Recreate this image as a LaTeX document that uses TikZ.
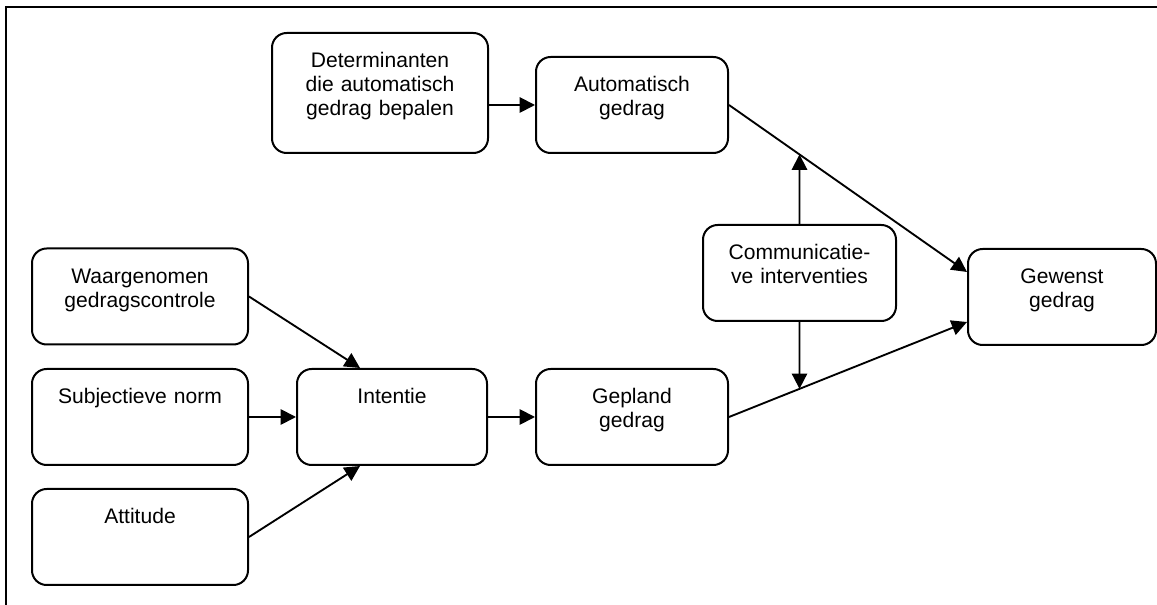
\documentclass[tikz,border=0pt]{standalone}
\usepackage{fontspec}
\setmainfont{Liberation Sans}
\usetikzlibrary{arrows.meta,intersections}
\tikzset{
  blok/.style={draw, line width=1.5pt, rounded corners=11pt, align=center, inner sep=0pt,
    text width=144pt, text height=25.9pt, text depth=46.1pt,
    font=\fontsize{15.8}{18}\selectfont},
  breed/.style={text width=162pt},
  hoog/.style={text depth=64.1pt},
  pijl/.style={draw=black, line width=1.4pt, -{Triangle[length=11.5pt,width=11.5pt]}}
}
\begin{document}
\begin{tikzpicture}[x=0.75pt,y=-0.75pt]
\useasboundingbox (0,0) rectangle (1157,605);
\draw[line width=1.6pt] (6,605) -- (6,7) -- (1157,7);

\begin{scope}[every node/.style={blok}]
    \node[breed,hoog] (det) at (380,93) {Determinanten\\die automatisch\\gedrag bepalen};
    \node (auto) at (632,105) {Automatisch\\gedrag};
    \node[breed] (waarg) at (140,296.5) {Waargenomen\\gedragscontrole};
    \node[breed] (subj) at (140,417) {Subjectieve norm};
    \node[breed] (att) at (140,537) {Attitude};
    \node[text width=142.5pt] (int) at (392,417) {Intentie};
    \node (gep) at (632,417) {Gepland\\gedrag};
    \node[text width=144.75pt] (comm) at (799.5,273) {Communicatie-\\ve interventies};
    \node[text width=141pt] (gw) at (1062,297) {Gewenst\\gedrag};
\end{scope}

\coordinate (gwA) at ([yshift=18.75pt]gw.west);
\coordinate (gwB) at ([yshift=-18.75pt]gw.west);
\path[name path=boven] (auto.east) -- (gwA);
\path[name path=onder] (gep.east) -- (gwB);
\path[name path=omhoog] (comm.north) -- ++(0,-150);
\path[name path=omlaag] (comm.south) -- ++(0,150);
\path[name intersections={of=boven and omhoog, by=up}];
\path[name intersections={of=onder and omlaag, by=down}];

\begin{scope}[every edge/.style={pijl}]
    \path (det.east |- auto.west) edge (auto.west);
    \path (auto.east) edge (gwA);
    \path (gep.east) edge (gwB);
    \path (comm.north) edge (up);
    \path (comm.south) edge (down);
    \path (waarg.east) edge ([xshift=-24pt]int.north);
    \path (subj.east) edge (int.west);
    \path (att.east) edge ([xshift=-24pt]int.south);
    \path (int.east) edge (gep.west);
\end{scope}
\end{tikzpicture}
\end{document}
